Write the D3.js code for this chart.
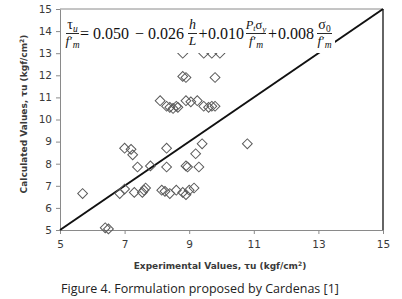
<!DOCTYPE html>
<html>
<head>
<meta charset="utf-8">
<script src="https://cdn.jsdelivr.net/npm/d3@7"></script>
<style>
  html, body { margin: 0; padding: 0; background: #fff; }
  svg { display: block; }
</style>
</head>
<body>
<div id="chart"></div>
<script>
// Experimental vs calculated shear strength (kgf/cm2)
const expValues = [
  5.7, 6.4, 6.5,
  6.85, 7.0, 7.3, 7.55, 7.6, 7.65, 8.15, 8.25, 8.4, 8.6, 8.8, 8.9, 9.0, 9.15,
  7.4, 7.8, 8.3, 8.9, 8.95, 9.3,
  7.0, 7.2, 7.25, 8.3, 9.2, 9.4, 10.8,
  8.1, 8.3, 8.4, 8.5, 8.6, 8.65, 8.9, 9.05, 9.25, 9.45, 9.6, 9.7, 9.8,
  8.8, 8.9, 9.8,
  8.8, 9.45, 9.7, 9.95
];
const calcValues = [
  6.65, 5.1, 5.05,
  6.65, 6.85, 6.7, 6.7, 6.8, 6.9, 6.8, 6.75, 6.65, 6.8, 6.7, 6.6, 6.8, 6.9,
  7.85, 7.9, 7.85, 7.9, 7.85, 7.85,
  8.7, 8.65, 8.4, 8.7, 8.45, 8.9, 8.9,
  10.85, 10.6, 10.55, 10.5, 10.6, 10.55, 10.85, 10.8, 10.85, 10.6, 10.55, 10.6, 10.6,
  11.95, 11.9, 11.9,
  13.0, 13.0, 13.0, 13.0
];
const xTicks = [5, 7, 9, 11, 13, 15];
const yTicks = [5, 6, 7, 8, 9, 10, 11, 12, 13, 14, 15];
const identityLine = [5, 15];

const points = expValues.map((v, i) => ({ x: v, y: calcValues[i] }));

const width = 402, height = 299;
const plot = { left: 60, right: 383, top: 9, bottom: 230 };

const svg = d3.select("#chart").append("svg")
  .attr("width", width)
  .attr("height", height);

const x = d3.scaleLinear().domain([5, 15]).range([plot.left, plot.right]);
const y = d3.scaleLinear().domain([5, 15]).range([plot.bottom, plot.top]);

const tickFont = "'DejaVu Sans', sans-serif";

// axes
const xAxis = svg.append("g")
  .attr("transform", `translate(0,${plot.bottom})`)
  .call(d3.axisBottom(x).tickValues(xTicks).tickSize(4).tickPadding(7).tickSizeOuter(0));
const yAxis = svg.append("g")
  .attr("transform", `translate(${plot.left},0)`)
  .call(d3.axisLeft(y).tickValues(yTicks).tickSize(4).tickPadding(4).tickSizeOuter(0));

[xAxis, yAxis].forEach(a => {
  a.select(".domain").attr("stroke", "#8a8a8a");
  a.selectAll(".tick line").attr("stroke", "#8a8a8a");
  a.selectAll(".tick text")
    .style("font-family", tickFont)
    .style("font-size", "10.5px")
    .attr("fill", "#3a3a3a");
});

// top and right frame
svg.append("line")
  .attr("x1", plot.left).attr("x2", plot.right)
  .attr("y1", plot.top).attr("y2", plot.top)
  .attr("stroke", "#8a8a8a");
svg.append("line")
  .attr("x1", plot.right).attr("x2", plot.right)
  .attr("y1", plot.top).attr("y2", plot.bottom)
  .attr("stroke", "#111").attr("stroke-width", 1.3);

// 1:1 line
svg.append("line")
  .attr("x1", x(identityLine[0])).attr("y1", y(identityLine[0]))
  .attr("x2", x(identityLine[1])).attr("y2", y(identityLine[1]))
  .attr("stroke", "#111")
  .attr("stroke-width", 2);

// markers: open diamonds
const diamond = d3.symbol().type(d3.symbolSquare).size(48);
svg.append("g")
  .selectAll("path")
  .data(points)
  .join("path")
  .attr("d", diamond)
  .attr("transform", d => `translate(${x(d.x)},${y(d.y)}) rotate(45)`)
  .attr("fill", "none")
  .attr("stroke", "#5a5a5a")
  .attr("stroke-width", 1);

// equation box (white background hides what is behind)
const eq = svg.append("g");
eq.append("rect")
  .attr("x", 62).attr("y", 11)
  .attr("width", 273).attr("height", 42)
  .attr("fill", "#fff");

const serif = "'Liberation Serif', 'Times New Roman', serif";
const barY = 33.5;

function txt(xPos, yPos, size, anchor) {
  return eq.append("text")
    .attr("x", xPos).attr("y", yPos)
    .attr("text-anchor", anchor || "start")
    .style("font-family", serif)
    .style("font-size", size + "px")
    .attr("fill", "#111");
}

function frac(cx, w, num, den, numSize) {
  eq.append("line")
    .attr("x1", cx - w / 2).attr("x2", cx + w / 2)
    .attr("y1", barY).attr("y2", barY)
    .attr("stroke", "#111").attr("stroke-width", 0.9);
  const n = txt(cx, barY - 4.5, numSize || 14, "middle");
  num(n);
  const d = txt(cx, barY + 11, 13.5, "middle");
  den(d);
}

function fPrimeM(t) {
  t.append("tspan").style("font-style", "italic").text("f");
  t.append("tspan").attr("dx", 0.5).text("′");
  t.append("tspan").attr("dy", 3).style("font-size", "9.5px").style("font-style", "italic").text("m");
}

frac(72.5, 13, t => {
  t.append("tspan").text("τ");
  t.append("tspan").attr("dy", 3).style("font-size", "9.5px").style("font-style", "italic").text("u");
}, fPrimeM);

txt(80, 38.5, 16).text("=");
txt(93, 38.5, 16).text("0.050");
txt(135, 38.5, 16).text("−");
txt(148, 38.5, 16).text("0.026");

frac(192.5, 9, t => t.style("font-style", "italic").text("h"),
  t => t.style("font-style", "italic").text("L"));

txt(198.5, 38.5, 16).text("+");
txt(208, 38.5, 16).text("0.010");

frac(256, 20, t => {
  t.append("tspan").style("font-style", "italic").text("P");
  t.append("tspan").attr("dy", 2).style("font-size", "8px").style("font-style", "italic").text("t");
  t.append("tspan").attr("dy", -2).text("σ");
  t.append("tspan").attr("dy", 3).style("font-size", "9px").style("font-style", "italic").text("y");
}, fPrimeM, 12.5);

txt(268, 38.5, 16).text("+");
txt(278, 38.5, 16).text("0.008");

frac(324.5, 15, t => {
  t.append("tspan").text("σ");
  t.append("tspan").attr("dy", 3).style("font-size", "9.5px").text("0");
}, fPrimeM);

// axis titles
const titleStyle = sel => sel
  .style("font-family", tickFont)
  .style("font-size", "9px")
  .style("font-weight", "bold")
  .attr("fill", "#3a3a3a");

const xt = svg.append("text")
  .attr("x", 220).attr("y", 269)
  .attr("text-anchor", "middle")
  .call(titleStyle);
xt.append("tspan").text("Experimental Values, τu (kgf/cm");
xt.append("tspan").attr("dy", -3).style("font-size", "6px").text("2");
xt.append("tspan").attr("dy", 3).text(")");

const yt = svg.append("text")
  .attr("transform", "translate(27,114) rotate(-90)")
  .attr("text-anchor", "middle")
  .call(titleStyle);
yt.append("tspan").text("Calculated  Values, τu (kgf/cm");
yt.append("tspan").attr("dy", -3).style("font-size", "6px").text("2");
yt.append("tspan").attr("dy", 3).text(")");

// caption
svg.append("text")
  .attr("x", 200).attr("y", 293)
  .attr("text-anchor", "middle")
  .style("font-family", "'Open Sans', sans-serif")
  .style("font-size", "12.5px")
  .attr("fill", "#222")
  .text("Figure 4. Formulation proposed by Cardenas [1]");
</script>
</body>
</html>
